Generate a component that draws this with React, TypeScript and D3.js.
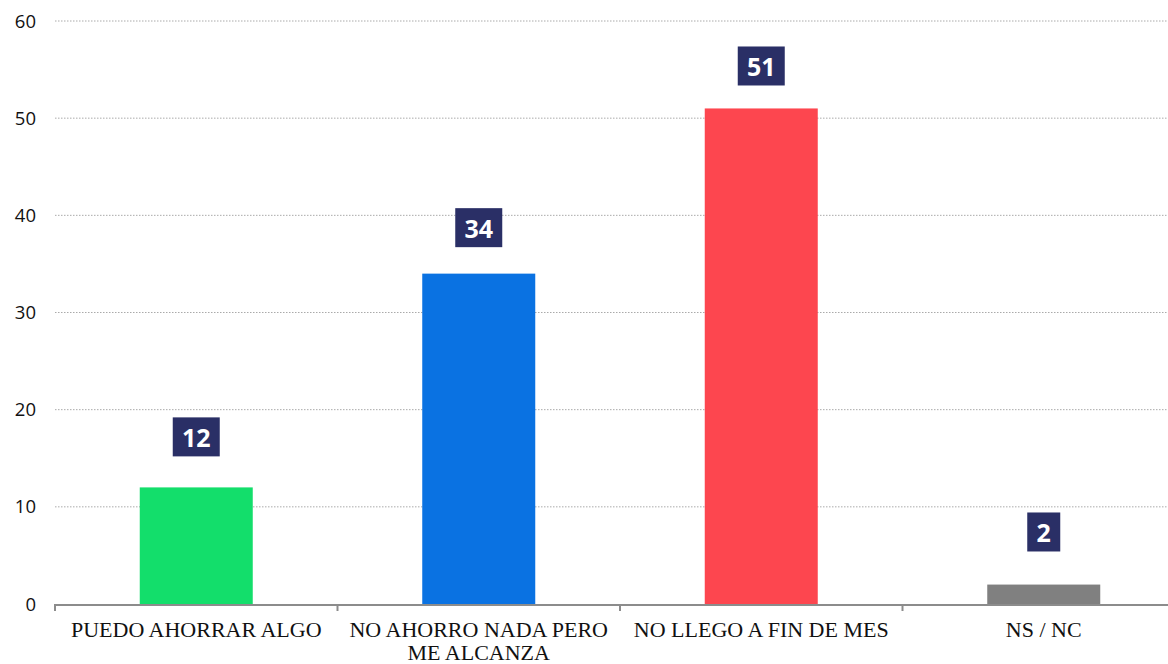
import React from "react";
import * as d3 from "d3";

const categories = ["PUEDO AHORRAR ALGO", "NO AHORRO NADA PERO ME ALCANZA", "NO LLEGO A FIN DE MES", "NS / NC"];
const categoryLines = [["PUEDO AHORRAR ALGO"], ["NO AHORRO NADA PERO", "ME ALCANZA"], ["NO LLEGO A FIN DE MES"], ["NS / NC"]];
const values = [12, 34, 51, 2];
const colors = ["#13de6b", "#0a72e2", "#fd464f", "#808080"];
const yTicks = [0, 10, 20, 30, 40, 50, 60];

export default function App() {
  const W = 1168, H = 664;
  const left = 55, plotW = 1130, top = 21, bottom = 604;
  const x = d3.scaleBand<string>().domain(categories).range([left, left + plotW]).paddingInner(0.6).paddingOuter(0.3);
  const xb = d3.scaleBand<string>().domain(categories).range([left, left + plotW]);
  const y = d3.scaleLinear().domain([0, 60]).range([bottom, top]);
  const labelY = d3.scaleLinear().domain([0, 60]).range([551, 551 - 9.51 * 60]);
  const boundaries = categories.map((c) => xb(c)!).concat([left + plotW]);
  return (
    <svg width={W} height={H} style={{ position: "absolute", left: 0, top: 0 }}>
      <rect width={W} height={H} fill="#fff" />
      {yTicks.map((t) => (
        <g key={t}>
          {t > 0 && (
            <line x1={left} x2={W} y1={y(t)} y2={y(t)} stroke="#aaa" strokeWidth={1} strokeDasharray="1.5,1.5" />
          )}
          <text x={36} y={y(t)} dy="0.36em" textAnchor="end" fontFamily="'Open Sans', sans-serif" fontSize={18.5} fill="#111">{t}</text>
        </g>
      ))}
      {categories.map((c, i) => (
        <rect key={c} x={x(c)} y={y(values[i])} width={x.bandwidth()} height={bottom - y(values[i])} fill={colors[i]} />
      ))}
      <line x1={left} x2={W} y1={bottom + 1} y2={bottom + 1} stroke="#8c8c8c" strokeWidth={2} />
      {boundaries.map((b, i) => (
        <line key={i} x1={b} x2={b} y1={bottom} y2={bottom + 7} stroke="#8c8c8c" strokeWidth={2} />
      ))}
      {categories.map((c, i) => {
        const cx = x(c)! + x.bandwidth() / 2;
        const cy = labelY(values[i]);
        const label = String(values[i]);
        const bw = label.length === 1 ? 33 : 47;
        const bh = 39;
        return (
          <g key={c + "l"}>
            <rect x={cx - bw / 2} y={cy - bh / 2} width={bw} height={bh} fill="#2a2f66" />
            <text x={cx} y={cy + 1} dy="0.36em" textAnchor="middle" fontFamily="'Open Sans', sans-serif" fontWeight={700} fontSize={25} fill="#fff">{label}</text>
          </g>
        );
      })}
      {categories.map((c, i) => {
        const cx = xb(c)! + xb.bandwidth() / 2;
        return (
          <text key={c + "t"} textAnchor="middle" fontFamily="'Liberation Serif', 'Times New Roman', serif" fontSize={22} fill="#111">
            {categoryLines[i].map((ln, j) => (
              <tspan key={j} x={cx} y={637 + j * 22.5}>{ln}</tspan>
            ))}
          </text>
        );
      })}
    </svg>
  );
}
